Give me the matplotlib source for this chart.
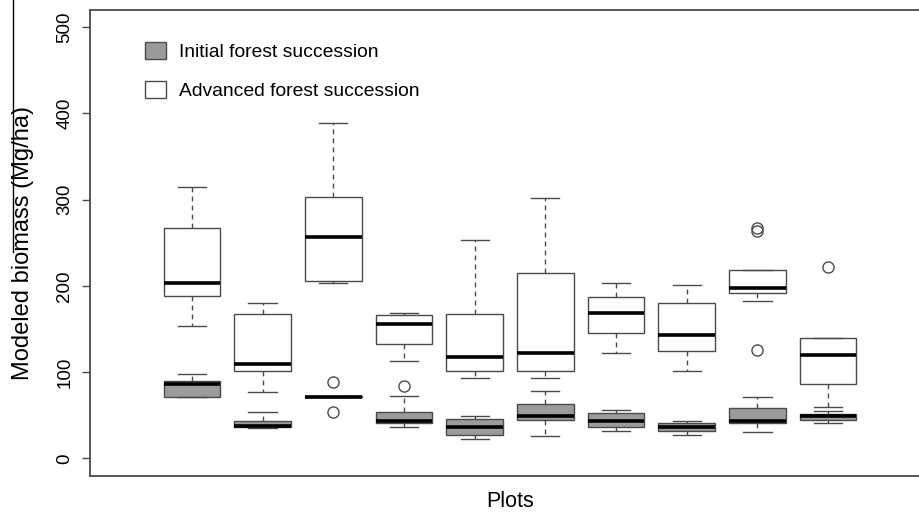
import matplotlib
matplotlib.use("Agg")
import matplotlib.pyplot as plt
from matplotlib.patches import Patch
from matplotlib.lines import Line2D

plt.rcParams['font.family'] = ['Liberation Sans', 'DejaVu Sans']

plots = list(range(1, 11))

# Advanced forest succession: lower whisker, Q1, median, Q3, upper whisker
adv_low = [153, 77, 203, 113, 93.5, 93.5, 122, 101, 183, 60]
adv_q1 = [188, 101, 206, 133, 101, 101, 145, 125, 192, 86]
adv_med = [203, 109, 257, 156, 117.5, 122, 169, 143, 197, 120]
adv_q3 = [267, 167, 303, 166, 167, 215, 187, 180, 218, 139]
adv_high = [315, 180, 389, 169, 253, 302, 203, 201, 218, 139]
adv_out = [[], [], [], [], [], [], [], [], [126, 264, 267], [222]]

# Initial forest succession
ini_low = [71, 35.5, 71, 36, 22.5, 26, 32, 27.5, 31, 41]
ini_q1 = [71, 36.3, 71, 41.3, 26.7, 44.4, 36, 31.7, 40.6, 44.4]
ini_med = [86, 38, 71.5, 43.6, 36, 49.4, 43, 36.3, 43.6, 49.4]
ini_q3 = [90, 43.3, 72, 53.7, 45.2, 62.6, 53, 40.6, 58, 51.4]
ini_high = [98, 54, 72, 72.3, 49.4, 78.4, 55.7, 43.6, 71.5, 54.5]
ini_out = [[], [], [54, 88], [84], [], [], [], [], [], []]

legend_labels = ["Initial forest succession", "Advanced forest succession"]
yticks = [0, 100, 200, 300, 400, 500]

EDGE = "#4a4a4a"
GRAY = "#9b9b9b"


def stats(low, q1, med, q3, high, out):
    return [dict(whislo=a, q1=b, med=c, q3=d, whishi=e, fliers=f)
            for a, b, c, d, e, f in zip(low, q1, med, q3, high, out)]


fig = plt.figure(figsize=(9.2, 5.15), dpi=100)
ax = fig.add_axes([90 / 920, 39.3 / 515, 840 / 920, 466.2 / 515])

common = dict(
    positions=plots, widths=0.8, capwidths=0.4, patch_artist=True,
    showfliers=True, manage_ticks=False,
    whiskerprops=dict(color=EDGE, linewidth=1.0, linestyle=(0, (3.5, 3))),
    capprops=dict(color=EDGE, linewidth=1.0),
    medianprops=dict(color="black", linewidth=2.6, solid_capstyle="butt"),
    flierprops=dict(marker="o", markerfacecolor="none", markeredgecolor=EDGE,
                    markersize=8, markeredgewidth=1.0),
)

ax.bxp(stats(adv_low, adv_q1, adv_med, adv_q3, adv_high, adv_out),
       boxprops=dict(facecolor="white", edgecolor=EDGE, linewidth=1.0), **common)
ax.bxp(stats(ini_low, ini_q1, ini_med, ini_q3, ini_high, ini_out),
       boxprops=dict(facecolor=GRAY, edgecolor=EDGE, linewidth=1.0), **common)

ax.set_xlim(-0.44, 11.44)
ax.set_ylim(-20.2, 520.6)
ax.set_xticks([])
ax.set_yticks(yticks)
ax.set_yticklabels([str(t) for t in yticks], rotation=90, va="center", fontsize=13.5)
ax.tick_params(axis="y", length=6, width=1.0, color=EDGE, pad=6)

for s in ["left", "top", "bottom"]:
    ax.spines[s].set_color(EDGE)
    ax.spines[s].set_linewidth(1.3)
ax.spines["right"].set_visible(False)

ax.set_ylabel("Modeled biomass (Mg/ha)", fontsize=17)
ax.yaxis.set_label_coords((34 - 90) / 840, 0.5)
ax.set_xlabel("Plots", fontsize=15.5)
ax.xaxis.set_label_coords(0.5, -(491 - 475.7) / 466.2)

handles = [Patch(facecolor=GRAY, edgecolor=EDGE, linewidth=1.0),
           Patch(facecolor="white", edgecolor=EDGE, linewidth=1.0)]
leg = ax.legend(handles, legend_labels, loc="upper left",
                bbox_to_anchor=(145.5 / 920, 1 - 42 / 515), bbox_transform=fig.transFigure,
                frameon=False, fontsize=13.9, borderpad=0, borderaxespad=0,
                handlelength=1.05, handleheight=1.0, handletextpad=0.7,
                labelspacing=1.0)

# scan artifact line at the left edge
fig.add_artist(Line2D([13 / 920, 13 / 920], [1, 1 - 252 / 515],
                      transform=fig.transFigure, color="black", linewidth=1.0))

fig.savefig("out.png", dpi=100)
